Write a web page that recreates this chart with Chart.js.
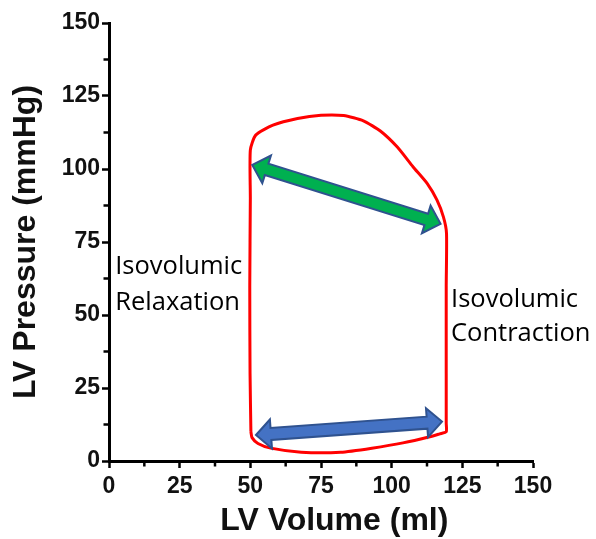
<!DOCTYPE html>
<html><head><meta charset="utf-8">
<script src="https://cdn.jsdelivr.net/npm/chart.js@4"></script>
<style>html,body{margin:0;padding:0;background:#fff}#wrap{width:596px;height:539px}</style>
</head><body><div id="wrap"><canvas id="c"></canvas></div>
<script>
// ---- data ----
const loopVolume   = [50.2, 49.9, 49.8, 50, 50, 51.9, 58, 66.7, 75, 83, 90, 96, 102, 107.6, 112.6, 116, 118.3, 119.4, 119.3, 119.3, 119.3, 119.3, 117, 113.5, 104, 93, 82, 68, 57.2, 52.7, 50.6, 50.2];
const loopPressure = [10, 30, 60, 90, 106.5, 111.6, 115, 117.3, 118.4, 118.3, 116.5, 113, 107.5, 100.7, 95, 89.4, 83.6, 78, 60, 30, 13, 10, 9.3, 8.3, 6.2, 4.4, 3.0, 3.0, 4.4, 6.0, 8.0, 10];
const xTicks = [0, 25, 50, 75, 100, 125, 150];
const yTicks = [0, 25, 50, 75, 100, 125, 150];
const minorTicks = [12.5, 37.5, 62.5, 87.5, 112.5, 137.5];
const greenArrowVolume   = [50.7, 117.3];
const greenArrowPressure = [101.4, 81.2];
const blueArrowVolume    = [52, 117.8];
const blueArrowPressure  = [8.9, 13.5];
const leftLabel  = ['Isovolumic', 'Relaxation'];
const rightLabel = ['Isovolumic', 'Contraction'];
const xTitle = 'LV Volume (ml)';
const yTitle = 'LV Pressure (mmHg)';

const loopPoints = loopVolume.map((v, i) => ({x: v, y: loopPressure[i]}));

function drawArrow(ctx, x1, y1, x2, y2, fill) {
  const dx = x2 - x1, dy = y2 - y1, L = Math.hypot(dx, dy);
  const ux = dx / L, uy = dy / L, nx = -uy, ny = ux;
  const sw = 6, hw = 14.5, hl = 15;
  const P = (a, b) => [x1 + ux * a + nx * b, y1 + uy * a + ny * b];
  const pts = [P(0, 0), P(hl, hw), P(hl, sw), P(L - hl, sw), P(L - hl, hw), P(L, 0),
               P(L - hl, -hw), P(L - hl, -sw), P(hl, -sw), P(hl, -hw)];
  ctx.save();
  ctx.beginPath();
  pts.forEach((p, i) => i ? ctx.lineTo(p[0], p[1]) : ctx.moveTo(p[0], p[1]));
  ctx.closePath();
  ctx.fillStyle = fill;
  ctx.fill();
  ctx.lineWidth = 2;
  ctx.lineJoin = 'miter';
  ctx.strokeStyle = '#2F528F';
  ctx.stroke();
  ctx.restore();
}

const extras = {
  id: 'extras',
  afterDraw(chart) {
    const {ctx, scales: {x, y}} = chart;
    ctx.save();
    // minor ticks
    ctx.strokeStyle = '#000';
    ctx.lineWidth = 2.5;
    minorTicks.forEach(v => {
      const px = x.getPixelForValue(v), py = y.bottom;
      ctx.beginPath(); ctx.moveTo(px, py); ctx.lineTo(px, py + 5.5); ctx.stroke();
      const qy = y.getPixelForValue(v), qx = x.left;
      ctx.beginPath(); ctx.moveTo(qx, qy); ctx.lineTo(qx - 5.5, qy); ctx.stroke();
    });
    // arrows
    drawArrow(ctx, x.getPixelForValue(greenArrowVolume[0]), y.getPixelForValue(greenArrowPressure[0]),
              x.getPixelForValue(greenArrowVolume[1]), y.getPixelForValue(greenArrowPressure[1]), '#00B050');
    drawArrow(ctx, x.getPixelForValue(blueArrowVolume[0]), y.getPixelForValue(blueArrowPressure[0]),
              x.getPixelForValue(blueArrowVolume[1]), y.getPixelForValue(blueArrowPressure[1]), '#4472C4');
    // annotations
    ctx.fillStyle = '#000';
    ctx.font = '25.5px "Open Sans"';
    ctx.textAlign = 'left';
    ctx.textBaseline = 'alphabetic';
    ctx.fillText(leftLabel[0], x.getPixelForValue(2.2), y.getPixelForValue(64.2));
    ctx.fillText(leftLabel[1], x.getPixelForValue(2.2), y.getPixelForValue(51.7));
    ctx.fillText(rightLabel[0], x.getPixelForValue(121.0), y.getPixelForValue(52.8));
    ctx.fillText(rightLabel[1], x.getPixelForValue(121.0), y.getPixelForValue(41.2));
    ctx.restore();
  }
};

const tickFont = {family: '"Liberation Sans", Arial, sans-serif', size: 23, weight: 'bold'};
const titleFont = {family: '"Liberation Sans", Arial, sans-serif', size: 32, weight: 'bold', lineHeight: 1};

new Chart(document.getElementById('c'), {
  type: 'scatter',
  data: {
    datasets: [{
      data: loopPoints,
      showLine: true,
      borderColor: '#FF0000',
      borderWidth: 3,
      pointRadius: 0,
      tension: 0.2,
      fill: false
    }]
  },
  options: {
    responsive: true,
    maintainAspectRatio: false,
    animation: false,
    layout: {padding: {left: 6, right: 63, top: 23, bottom: 0}},
    plugins: {legend: {display: false}, tooltip: {enabled: false}},
    scales: {
      x: {
        type: 'linear', min: 0, max: 150,
        afterBuildTicks: s => { s.ticks = xTicks.map(v => ({value: v})); },
        afterFit: s => { s.height = 78; },
        ticks: {font: tickFont, color: '#111', padding: 5, maxRotation: 0, autoSkip: false},
        grid: {drawOnChartArea: false, drawTicks: true, tickLength: 7, tickWidth: 2.5, tickColor: '#000'},
        border: {color: '#000', width: 3},
        title: {display: true, text: '   ' + xTitle, font: titleFont, color: '#111', padding: {top: 0, bottom: 2}}
      },
      y: {
        type: 'linear', min: 0, max: 150,
        afterBuildTicks: s => { s.ticks = yTicks.map(v => ({value: v})); },
        afterFit: s => { s.width = 103; },
        ticks: {font: tickFont, color: '#111', padding: 2, autoSkip: false},
        grid: {drawOnChartArea: false, drawTicks: true, tickLength: 7, tickWidth: 2.5, tickColor: '#000'},
        border: {color: '#000', width: 3},
        title: {display: true, text: yTitle, font: titleFont, color: '#111', padding: {top: 4, bottom: 0}}
      }
    }
  },
  plugins: [extras]
});
</script>
</body></html>
